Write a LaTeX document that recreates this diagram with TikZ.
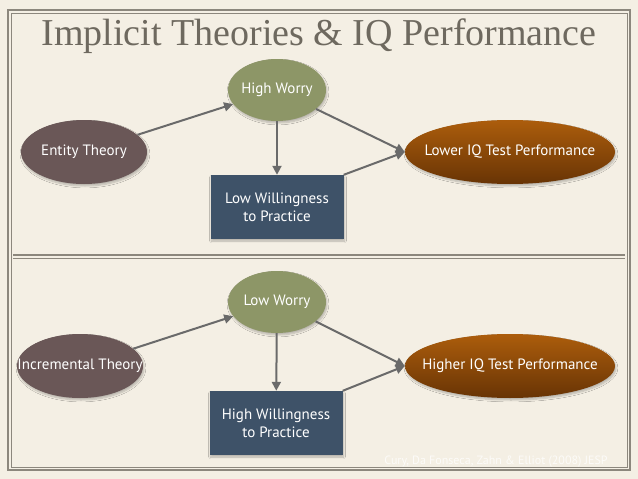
\documentclass[tikz,border=0pt]{standalone}
\usepackage{fontspec}
\setmainfont{Liberation Serif}
\newfontfamily\nodefont{PT Sans}
\usetikzlibrary{arrows.meta,shapes.geometric,shadows.blur}
\definecolor{bg}{HTML}{F4EFE4}
\definecolor{framec}{HTML}{8C877D}
\definecolor{titlec}{HTML}{6E695F}
\definecolor{theoryc}{HTML}{6A5757}
\definecolor{worryc}{HTML}{8D9667}
\definecolor{boxc}{HTML}{3E5268}
\definecolor{perftop}{HTML}{AC5D0C}
\definecolor{perfbot}{HTML}{683405}
\definecolor{arrowc}{HTML}{6A6A6A}
\tikzset{
  x=1pt,y=-1pt,
  base/.style={text=white,font=\nodefont\fontsize{15}{17}\selectfont,align=center,inner sep=0pt,
    blur shadow={shadow xshift=1pt,shadow yshift=-2pt,shadow opacity=25,shadow blur steps=6}},
  theory/.style={base,ellipse,fill=theoryc,minimum width=126,minimum height=64,inner xsep=-30pt,inner ysep=-6pt},
  worry/.style={base,ellipse,fill=worryc,minimum width=98,minimum height=62,inner xsep=-15pt,inner ysep=-6pt},
  perf/.style={base,ellipse,top color=perftop,bottom color=perfbot,minimum width=210,minimum height=64,inner xsep=-40pt,inner ysep=-6pt},
  wbox/.style={base,rectangle,fill=boxc,minimum width=133,minimum height=64},
  conn/.style={draw=arrowc,line width=2pt,-{Triangle[length=9pt,width=9pt]}},
}
\begin{document}
\begin{tikzpicture}
\fill[bg] (0,0) rectangle (638,479);
\useasboundingbox (0,0) rectangle (638,479);
% frame
\draw[framec,line width=1.2pt] (8,10) rectangle (630,470);
\draw[framec,line width=0.6pt] (11,13) rectangle (627,467);
\draw[framec,line width=1.2pt] (13,255) -- (625,255);
\draw[framec,line width=0.6pt] (13,258) -- (625,258);
% title
\node[text=titlec,font=\fontsize{38}{40}\selectfont,inner sep=0pt] (title) at (319,36) {Implicit Theories \& IQ Performance};
% top diagram
\node[worry] (hw) at (277,90) {High Worry};
\node[theory] (et) at (84,152) {Entity Theory};
\node[perf] (lp) at (510,152) {Lower IQ Test Performance};
\node[wbox] (lw) at (277,207) {Low Willingness\\[1pt]to Practice};
\draw[conn] (et) -- (hw);
\draw[conn] (hw) -- (lw);
\draw[conn] (hw) -- (lp.west);
\draw[conn] (lw.north east) -- (lp.west);
% bottom diagram
\node[worry] (lwo) at (277,302) {Low Worry};
\node[theory] (it) at (80,366) {Incremental Theory};
\node[perf] (hp) at (510,366) {Higher IQ Test Performance};
\node[wbox] (hwi) at (276,423) {High Willingness\\[1pt]to Practice};
\draw[conn] (it) -- (lwo);
\draw[conn] (lwo) -- (hwi);
\draw[conn] (lwo) -- (hp.west);
\draw[conn] (hwi.north east) -- (hp.west);
% citation
\node[text=white,opacity=0.75,font=\nodefont\fontsize{12}{14}\selectfont,inner sep=0pt] (cite) at (496,462) {Cury, Da Fonseca, Zahn \& Elliot (2008) JESP};
\end{tikzpicture}
\end{document}
